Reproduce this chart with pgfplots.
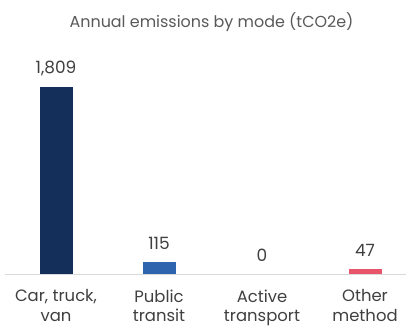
\documentclass[border=0pt]{standalone}
\usepackage{pgfplots}
\pgfplotsset{compat=1.18}
\usepackage{fontspec}
\setmainfont{Poppins}
\definecolor{navy}{HTML}{14305A}
\definecolor{midblue}{HTML}{2E64AE}
\definecolor{pinkred}{HTML}{E8546A}
\definecolor{txt}{HTML}{404040}
\definecolor{ttl}{HTML}{595959}
\definecolor{axl}{HTML}{D9D9D9}
\begin{document}
\begin{tikzpicture}
\path[use as bounding box] (-4.5bp,-53bp) rectangle (402.5bp,274bp);
\begin{axis}[
  at={(0,0)}, anchor=south west,
  scale only axis, width=401.7bp, height=206.8bp,
  xmin=-0.5, xmax=3.4, ymin=0, ymax=2000,
  ybar, bar width=33bp, bar shift=0pt,
  axis x line=bottom, axis y line=none,
  axis line style={axl, line width=1bp, -},
  axis on top,
  xtick={0,1,2,3}, major tick length=0pt,
  xticklabels={{Car, truck,\\van},{Public\\transit},{Active\\transport},{Other\\method}},
  xticklabel style={align=center, font=\fontsize{16.5}{20}\selectfont, text=txt, anchor=north, yshift=-12bp},
  ytick=\empty,
  nodes near coords={\pgfmathprintnumber[1000 sep={,}, assume math mode=true]{\pgfplotspointmeta}},
  every node near coord/.append style={anchor=base, yshift=13bp, font=\fontsize{17}{20}\selectfont, text=txt},
  clip=false,
]
\addplot[fill=navy, draw=none] coordinates {(0,1809)};
\addplot[fill=midblue, draw=none] coordinates {(1,115)};
\addplot[fill=midblue, draw=none] coordinates {(2,0)};
\addplot[fill=pinkred, draw=none] coordinates {(3,47)};
\end{axis}
\node[anchor=base, text=ttl, font=\fontsize{16}{19}\selectfont] at (207bp,246bp) {Annual emissions by mode (tCO2e)};
\end{tikzpicture}
\end{document}
